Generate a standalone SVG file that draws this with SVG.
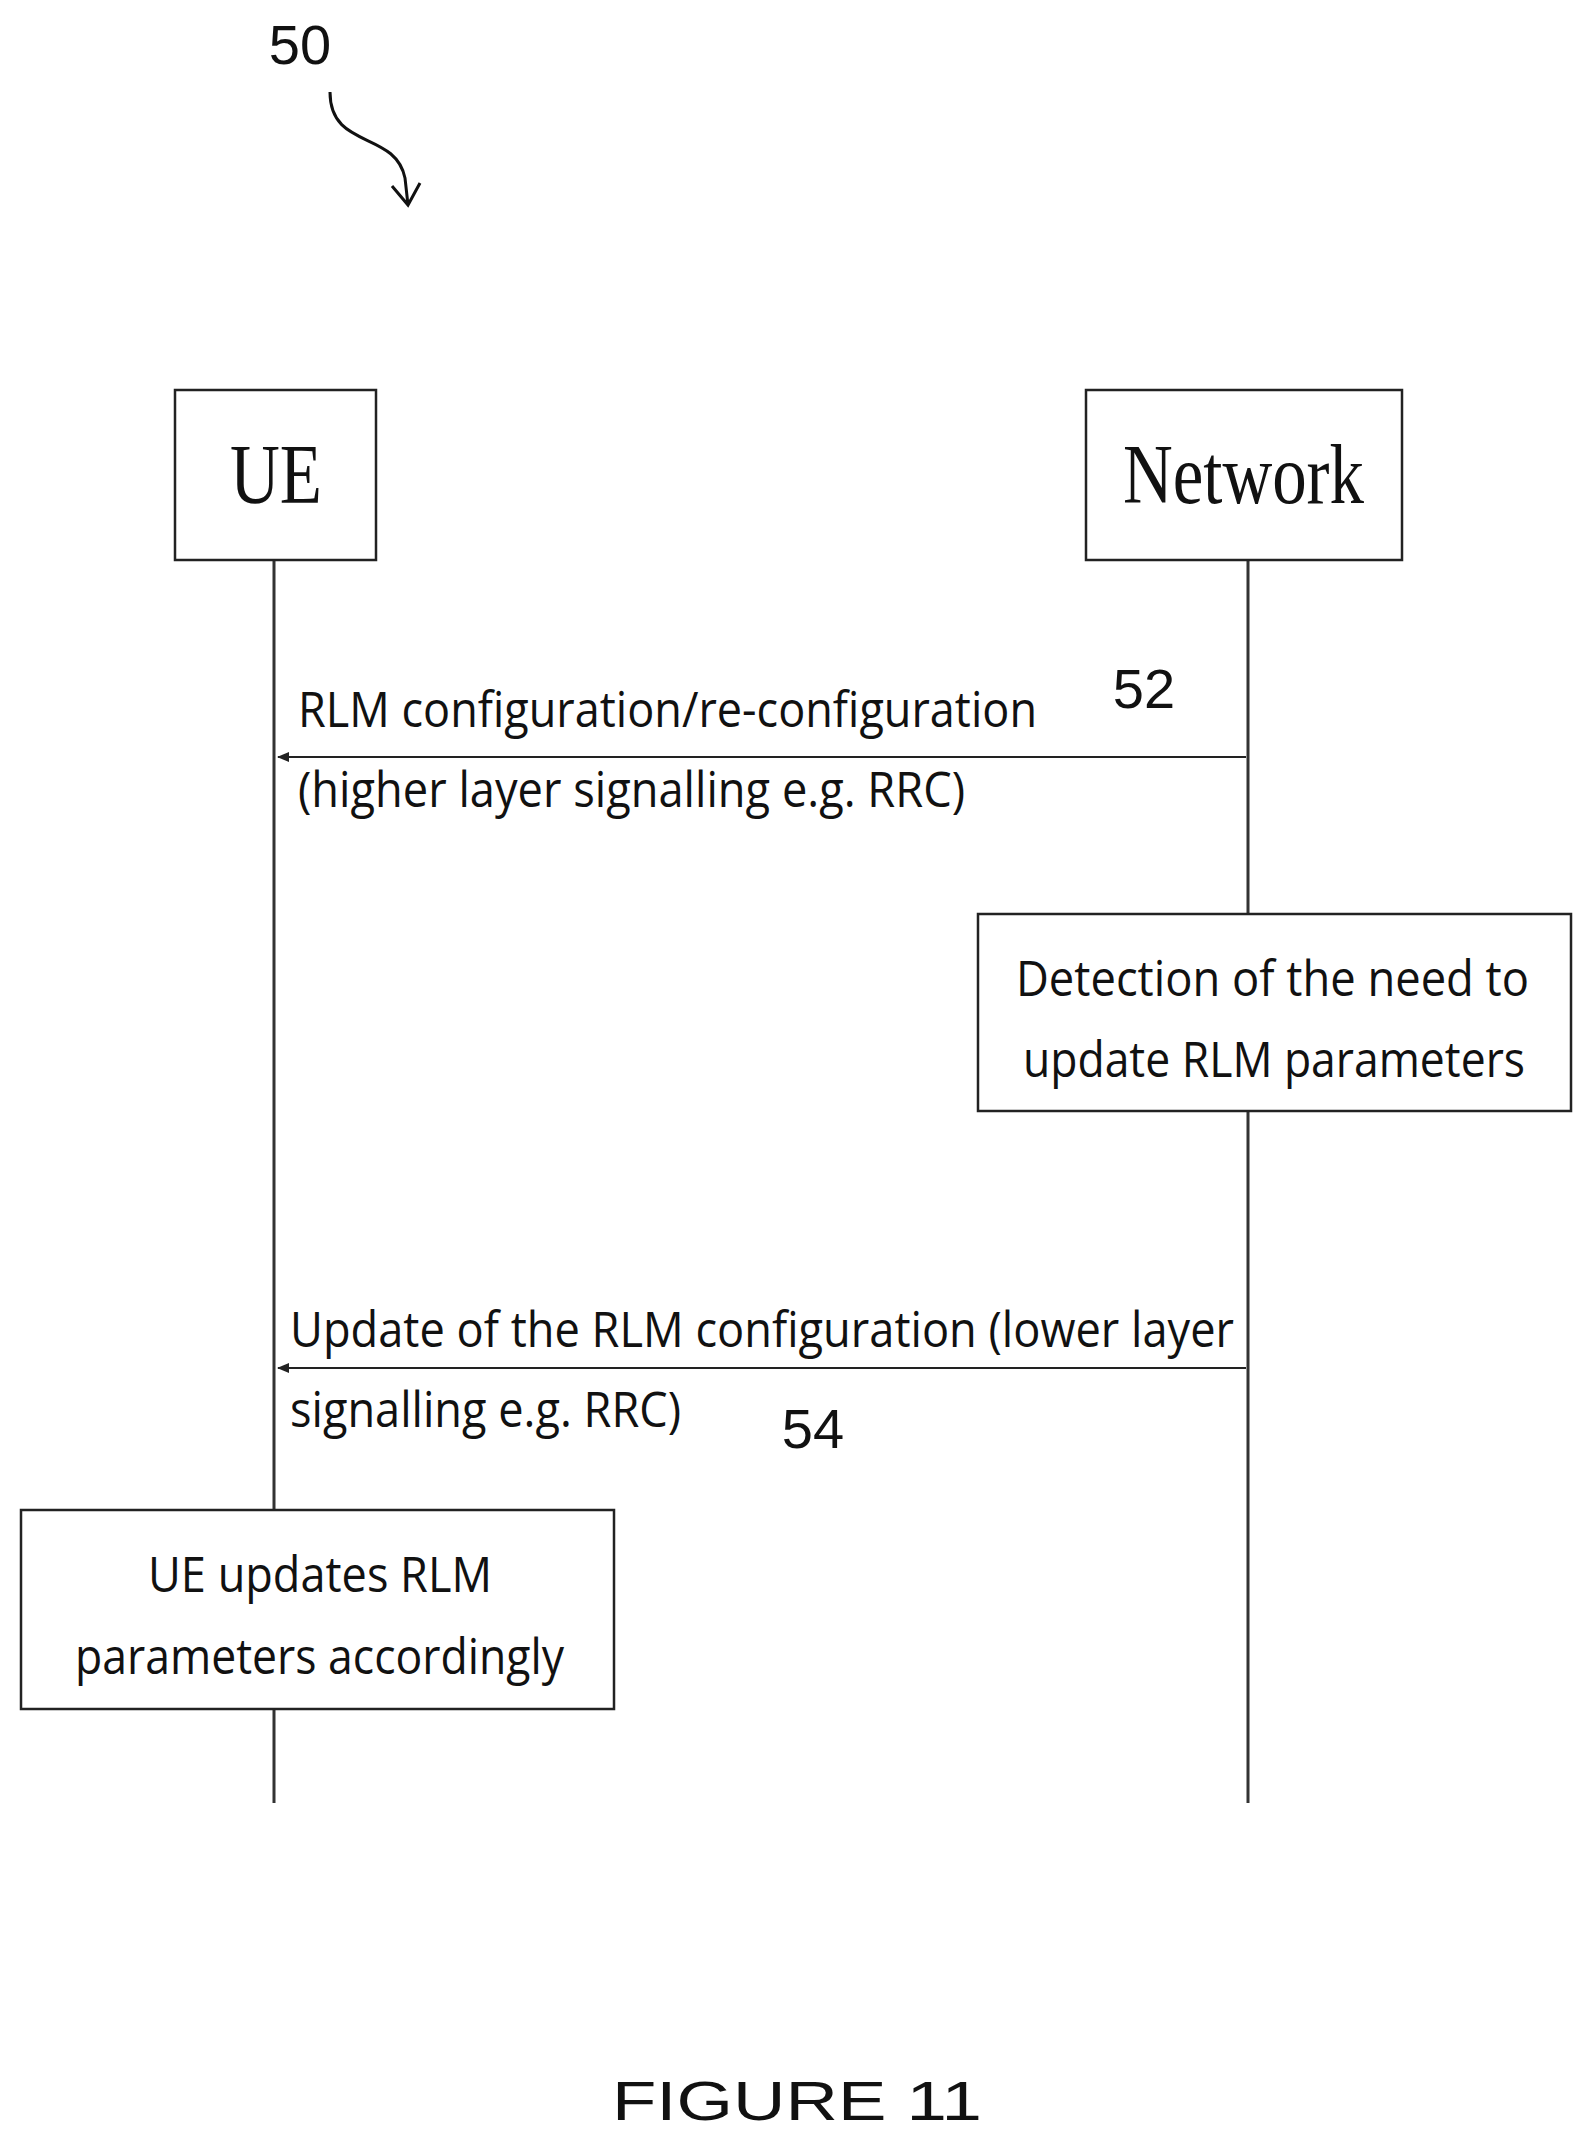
<svg xmlns="http://www.w3.org/2000/svg" width="1587" height="2135" viewBox="0 0 1587 2135">
<style>
.box{fill:#fff;stroke:#222;stroke-width:2.5}
.life{stroke:#333;stroke-width:3;fill:none}
.msg{stroke:#222;stroke-width:2;fill:none}
.t{font-family:"Open Sans","Liberation Sans",sans-serif;font-size:50px;fill:#111}
.s{font-family:"Liberation Serif",serif;font-size:84px;fill:#111}
.n{font-family:"Liberation Sans",sans-serif;font-size:56px;fill:#111}
</style>
<defs><marker id="ah" markerWidth="12" markerHeight="10" refX="11" refY="5" orient="auto" markerUnits="userSpaceOnUse"><path d="M0,0 L12,5 L0,10 Z" fill="#222"/></marker></defs>
<rect width="1587" height="2135" fill="#fff"/>
<text class="n" x="300" y="64" text-anchor="middle">50</text>
<path d="M330,92 C330,150 395,130 405,178 L408,205 M392,186 L408,205 L420,183" fill="none" stroke="#111" stroke-width="3"/>
<g id="connectors">
<line class="life" x1="274" y1="560" x2="274" y2="1803"/>
<line class="life" x1="1248" y1="560" x2="1248" y2="1803"/>
<line class="msg" x1="1246" y1="757" x2="278" y2="757" marker-end="url(#ah)"/>
<line class="msg" x1="1246" y1="1368" x2="278" y2="1368" marker-end="url(#ah)"/>
<text class="t" x="298" y="727" textLength="739" lengthAdjust="spacingAndGlyphs">RLM configuration/re-configuration</text>
<text class="t" x="298" y="807" textLength="667" lengthAdjust="spacingAndGlyphs">(higher layer signalling e.g. RRC)</text>
<text class="n" x="1144" y="708" text-anchor="middle">52</text>
<text class="t" x="290" y="1347" textLength="944" lengthAdjust="spacingAndGlyphs">Update of the RLM configuration (lower layer</text>
<text class="t" x="290" y="1427" textLength="391" lengthAdjust="spacingAndGlyphs">signalling e.g. RRC)</text>
<text class="n" x="813" y="1448" text-anchor="middle">54</text>
</g>
<g id="ue"><rect class="box" x="175" y="390" width="201" height="170"/><text class="s" x="230" y="503" textLength="92" lengthAdjust="spacingAndGlyphs">UE</text></g>
<g id="network"><rect class="box" x="1086" y="390" width="316" height="170"/><text class="s" x="1123" y="503" textLength="241" lengthAdjust="spacingAndGlyphs">Network</text></g>
<g id="detect"><rect class="box" x="978" y="914" width="593" height="197"/>
<text class="t" x="1016" y="996" textLength="513" lengthAdjust="spacingAndGlyphs">Detection of the need to</text>
<text class="t" x="1023" y="1077" textLength="502" lengthAdjust="spacingAndGlyphs">update RLM parameters</text></g>
<g id="ueupdate"><rect class="box" x="21" y="1510" width="593" height="199"/>
<text class="t" x="148" y="1592" textLength="344" lengthAdjust="spacingAndGlyphs">UE updates RLM</text>
<text class="t" x="75" y="1674" textLength="489" lengthAdjust="spacingAndGlyphs">parameters accordingly</text></g>
<text class="n" x="612" y="2120" font-size="80" textLength="370" lengthAdjust="spacingAndGlyphs">FIGURE 11</text>
</svg>
